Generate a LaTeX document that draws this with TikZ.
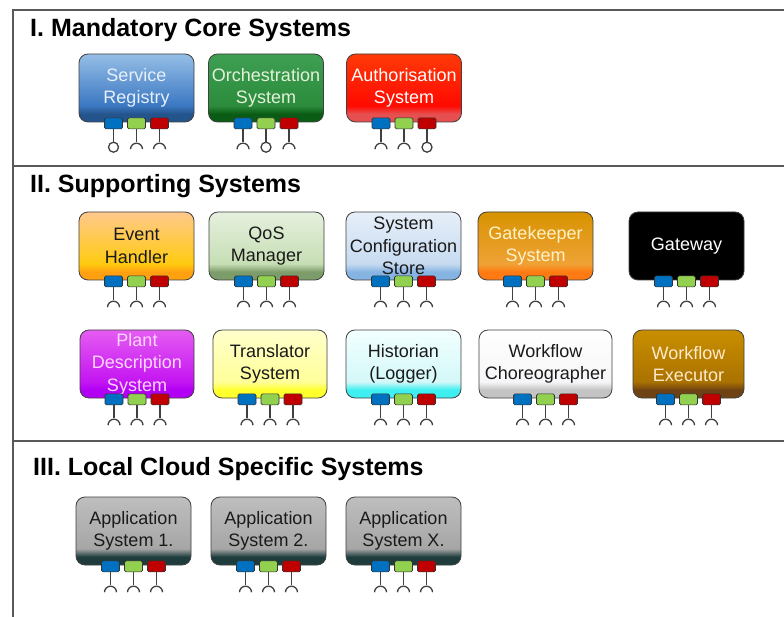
\documentclass[tikz,border=0pt]{standalone}
\usepackage{fontspec}
\setmainfont{Liberation Sans}
\usepackage{xcolor}

% port colours
\definecolor{portblue}{HTML}{0070C0}
\definecolor{portgreen}{HTML}{92D050}
\definecolor{portred}{HTML}{C00000}

% box colours (top, main, band)
\definecolor{srtop}{HTML}{95BEE6}\definecolor{srmain}{HTML}{3B78C2}\definecolor{srband}{HTML}{24548C}
\definecolor{ortop}{HTML}{3E9E52}\definecolor{ormain}{HTML}{2C8C3C}\definecolor{orband}{HTML}{0A5C14}
\definecolor{autop}{HTML}{FF3A08}\definecolor{aumain}{HTML}{FF0A00}\definecolor{auband}{HTML}{E65050}
\definecolor{ehtop}{HTML}{FFC98C}\definecolor{ehmain}{HTML}{FFCB10}\definecolor{ehband}{HTML}{FFA010}
\definecolor{qmtop}{HTML}{E6F0DE}\definecolor{qmmain}{HTML}{C6DEB4}\definecolor{qmband}{HTML}{7C9C6A}
\definecolor{sctop}{HTML}{E6EFF9}\definecolor{scmain}{HTML}{C7DBF0}\definecolor{scband}{HTML}{86B4E2}
\definecolor{gktop}{HTML}{D79300}\definecolor{gkmain}{HTML}{EFA236}\definecolor{gkband}{HTML}{FF7A12}
\definecolor{gwtop}{HTML}{000000}\definecolor{gwmain}{HTML}{000000}\definecolor{gwband}{HTML}{000000}
\definecolor{pdtop}{HTML}{E55CF2}\definecolor{pdmain}{HTML}{C415F2}\definecolor{pdband}{HTML}{B200F5}
\definecolor{trtop}{HTML}{FFFFCC}\definecolor{trmain}{HTML}{FFFF9A}\definecolor{trband}{HTML}{FFFF2E}
\definecolor{hitop}{HTML}{F2FFFF}\definecolor{himain}{HTML}{D4F8F8}\definecolor{hiband}{HTML}{3EEEF0}
\definecolor{wctop}{HTML}{FFFFFF}\definecolor{wcmain}{HTML}{F6F6F8}\definecolor{wcband}{HTML}{C4C4C4}
\definecolor{wetop}{HTML}{C98F00}\definecolor{wemain}{HTML}{AA7200}\definecolor{weband}{HTML}{6E4212}
\definecolor{aptop}{HTML}{BEBEBE}\definecolor{apmain}{HTML}{A6A6A6}\definecolor{apband}{HTML}{1E3C3C}

% text colours
\definecolor{srtext}{HTML}{E8F0FA}
\definecolor{ortext}{HTML}{E4F2DC}
\definecolor{gktext}{HTML}{FFF2C8}
\definecolor{pdtext}{HTML}{FFD6FF}
\definecolor{wetext}{HTML}{FFEACC}
\definecolor{dark}{HTML}{1A1A1A}

% vertical shading with a dark band at the bottom
\newcommand{\boxshading}[1]{%
  \pgfdeclareverticalshading{#1shade}{100bp}{color(0bp)=(#1band); color(25bp)=(#1band);
    color(31bp)=(#1band); color(37bp)=(#1main); color(75bp)=(#1top); color(100bp)=(#1top)}}
\boxshading{sr}\boxshading{or}\boxshading{au}
\boxshading{eh}\boxshading{qm}\boxshading{sc}\boxshading{gk}\boxshading{gw}
\boxshading{pd}\boxshading{tr}\boxshading{hi}\boxshading{wc}\boxshading{we}
\boxshading{ap}

\tikzset{
  sys/.style={draw=black!75, line width=0.8pt, rounded corners=9pt, shade,
    minimum height=68pt, inner sep=1pt, align=center,
    font=\fontsize{18}{22.5}\selectfont},
  port/.style={draw=black!80, line width=0.6pt, rounded corners=1.5pt,
    minimum width=18pt, minimum height=11pt, inner sep=0pt},
  stem/.style={draw=black!75, line width=1.3pt},
  title/.style={anchor=base west, inner sep=0pt, font=\fontsize{25}{28}\selectfont\bfseries},
  frame/.style={draw=black!65, line width=1.5pt},
  ball/.pic={\draw[stem] (0,5) circle[radius=5pt];},
  socket/.pic={\draw[stem] (-6,7) arc[start angle=180, end angle=0, radius=6pt];}
}

% name, centre, width, shading, text colour, label, three plug kinds
\newcommand{\sysnode}[9]{%
  \node[sys, shading=#4shade, text=#5, minimum width=#3pt] (#1) at (#2) {#6};
  \node[port, fill=portblue]  (#1-a) at ([xshift=-23pt, yshift=-1pt]#1.south) {};
  \node[port, fill=portgreen] (#1-b) at ([yshift=-1pt]#1.south) {};
  \node[port, fill=portred]   (#1-c) at ([xshift=23pt, yshift=-1pt]#1.south) {};
  \draw[stem] (#1-a.south) -- ++(0,13) coordinate (#1-ea);
  \draw[stem] (#1-b.south) -- ++(0,13) coordinate (#1-eb);
  \draw[stem] (#1-c.south) -- ++(0,13) coordinate (#1-ec);
  \pic at (#1-ea) {#7};
  \pic at (#1-eb) {#8};
  \pic at (#1-ec) {#9};
}

\begin{document}
\begin{tikzpicture}[x=1pt, y=-1pt]
    % Page
    \fill[white] (0,0) rectangle (784,617);
    \useasboundingbox (0,0) rectangle (784,617);

    % Frame
    \draw[frame] (13,617) -- (13,10) -- (784,10);
    \draw[frame] (13,166) -- (784,166);
    \draw[frame] (13,441) -- (784,441);

    % I. Mandatory core
    \node[title] (core) at (30,37) {I. Mandatory Core Systems};
    \sysnode{reg}{136.5,88}{115}{sr}{srtext}{Service\\Registry}{ball}{socket}{socket}
    \sysnode{orch}{266,88}{115}{or}{ortext}{Orchestration\\System}{socket}{ball}{socket}
    \sysnode{auth}{404,88}{115}{au}{white}{Authorisation\\System}{socket}{socket}{ball}

    % II. Supporting, first row
    \node[title] (supp) at (30,193) {II. Supporting Systems};
    \sysnode{event}{136.5,246}{115}{eh}{dark}{Event\\Handler}{socket}{socket}{socket}
    \sysnode{qos}{266.5,246}{115}{qm}{dark}{QoS\\Manager}{socket}{socket}{socket}
    \sysnode{conf}{403.5,246}{115}{sc}{dark}{System\\Configuration\\Store}{socket}{socket}{socket}
    \sysnode{gate}{535.5,246}{115}{gk}{gktext}{Gatekeeper\\System}{socket}{socket}{socket}
    \sysnode{gw}{686.5,246}{115}{gw}{white}{Gateway}{socket}{socket}{socket}

    % II. Supporting, second row
    \sysnode{plant}{137,364}{114}{pd}{pdtext}{Plant\\Description\\System}{socket}{socket}{socket}
    \sysnode{trans}{270,364}{114}{tr}{dark}{Translator\\System}{socket}{socket}{socket}
    \sysnode{hist}{403.5,364}{115}{hi}{dark}{Historian\\(Logger)}{socket}{socket}{socket}
    \sysnode{chor}{545.5,364}{133}{wc}{dark}{Workflow\\Choreographer}{socket}{socket}{socket}
    \sysnode{exec}{688.5,364}{111}{we}{wetext}{Workflow\\Executor}{socket}{socket}{socket}

    % III. Local cloud specific
    \node[title] (local) at (33,475) {III. Local Cloud Specific Systems};
    \sysnode{app1}{133.5,531}{115}{ap}{dark}{Application\\System 1.}{socket}{socket}{socket}
    \sysnode{app2}{268.5,531}{115}{ap}{dark}{Application\\System 2.}{socket}{socket}{socket}
    \sysnode{appx}{403.5,531}{115}{ap}{dark}{Application\\System X.}{socket}{socket}{socket}
\end{tikzpicture}
\end{document}
